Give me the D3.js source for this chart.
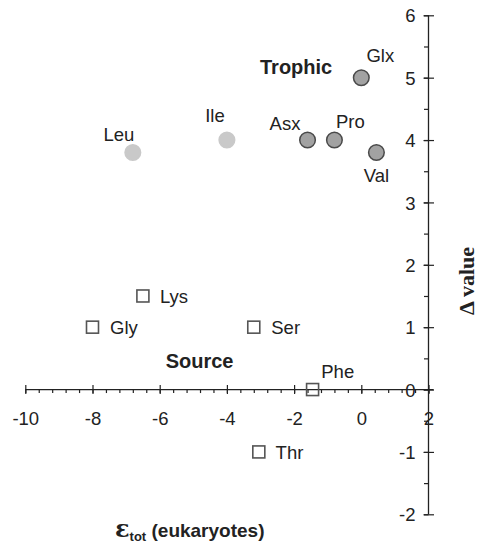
<!DOCTYPE html>
<html>
<head>
<meta charset="utf-8">
<script src="https://cdn.jsdelivr.net/npm/d3@7"></script>
<style>
  html, body { margin: 0; padding: 0; background: #fff; }
  svg { display: block; }
</style>
</head>
<body>
<script>
// ---- data ----
const trophicNames = ["Leu", "Ile", "Asx", "Pro", "Glx", "Val"];
const trophicX     = [-6.8, -4.0, -1.6, -0.8, 0.0, 0.45];
const trophicY     = [3.8, 4.0, 4.0, 4.0, 5.0, 3.8];
const trophicGroup = ["other", "other", "trophic", "trophic", "trophic", "trophic"];

const sourceNames = ["Lys", "Gly", "Ser", "Phe", "Thr"];
const sourceX     = [-6.5, -8.0, -3.2, -1.45, -3.05];
const sourceY     = [1.5, 1.0, 1.0, 0.0, -1.0];

const xTickValues = [-10, -8, -6, -4, -2, 0, 2];
const yTickValues = [-2, -1, 0, 1, 2, 3, 4, 5, 6];
const xMinorValues = d3.range(-10, 2.001, 0.4).map(v => +v.toFixed(2));
const yMinorValues = d3.range(-2, 6.001, 0.5);

// ---- layout ----
const W = 478, H = 544;
const svg = d3.select("body").append("svg").attr("width", W).attr("height", H);
const x = d3.scaleLinear().domain([-10, 2]).range([25.3, 428.5]);
const y = d3.scaleLinear().domain([-2, 6]).range([514.3, 15.3]);
const ink = "#222";
const font = "'Liberation Sans', Arial, sans-serif";

// x axis (at y = 0)
const xAxisG = svg.append("g").attr("transform", `translate(0,${y(0)})`);
xAxisG.append("line").attr("x1", x(-10)).attr("x2", x(2) + 5)
  .attr("stroke", ink).attr("stroke-width", 1.3);
xAxisG.call(g => {
  const minor = g.append("g").call(d3.axisBottom(x).tickValues(xMinorValues).tickSize(3.5).tickFormat(""));
  minor.select(".domain").remove();
  minor.selectAll("line").attr("stroke", ink).attr("stroke-width", 1.2);
  const major = g.append("g").call(d3.axisBottom(x).tickValues(xTickValues).tickFormat(d3.format("d")));
  major.select(".domain").remove();
  major.selectAll(".tick line").attr("y1", -4.5).attr("y2", 4.5).attr("stroke", ink).attr("stroke-width", 1.2);
  major.selectAll(".tick text").attr("y", 35).attr("dy", 0).attr("fill", ink)
    .style("font-family", font).style("font-size", "18.5px").text(d => d < 0 ? "-" + Math.abs(d) : d);
});

// y axis (at x = 2)
const yAxisG = svg.append("g").attr("transform", `translate(${x(2)},0)`);
yAxisG.append("line").attr("y1", y(6)).attr("y2", y(-2)).attr("stroke", ink).attr("stroke-width", 1.3);
yAxisG.call(g => {
  const minor = g.append("g").call(d3.axisLeft(y).tickValues(yMinorValues).tickSize(4.5).tickFormat(""));
  minor.select(".domain").remove();
  minor.selectAll("line").attr("stroke", ink).attr("stroke-width", 1.2);
  const major = g.append("g").call(d3.axisLeft(y).tickValues(yTickValues).tickFormat(d3.format("d")));
  major.select(".domain").remove();
  major.selectAll(".tick line").attr("x1", -5).attr("x2", 5.5).attr("stroke", ink).attr("stroke-width", 1.2);
  major.selectAll(".tick text").attr("x", -13).attr("dy", "0.36em").attr("fill", ink)
    .style("font-family", font).style("font-size", "18.5px").text(d => d < 0 ? "-" + Math.abs(d) : d);
});

// ---- points ----
const trophic = trophicNames.map((n, i) => ({ name: n, x: trophicX[i], y: trophicY[i], group: trophicGroup[i] }));
const source = sourceNames.map((n, i) => ({ name: n, x: sourceX[i], y: sourceY[i] }));

svg.append("g").selectAll("circle").data(trophic).join("circle")
  .attr("cx", d => x(d.x)).attr("cy", d => y(d.y)).attr("r", 7.8)
  .attr("fill", d => d.group === "trophic" ? "#a2a2a2" : "#c9c9c9")
  .attr("stroke", d => d.group === "trophic" ? "#4a4a4a" : "#c9c9c9")
  .attr("stroke-width", 1.5);

const sq = 12;
svg.append("g").selectAll("rect").data(source).join("rect")
  .attr("x", d => x(d.x) - sq / 2).attr("y", d => y(d.y) - sq / 2)
  .attr("width", sq).attr("height", sq)
  .attr("fill", d => d.name === "Phe" ? "none" : "#fff")
  .attr("stroke", "#555").attr("stroke-width", 1.6);

// point labels (offsets in px from the point)
const labelPos = {
  Leu: { dx: -14, dy: -12, a: "middle" },
  Ile: { dx: -12, dy: -18, a: "middle" },
  Asx: { dx: -22.5, dy: -10.5, a: "middle" },
  Pro: { dx: 16, dy: -12, a: "middle" },
  Glx: { dx: 19, dy: -15.5, a: "middle" },
  Val: { dx: 0, dy: 29, a: "middle" },
  Lys: { dx: 17, dy: 6.7, a: "start" },
  Gly: { dx: 17.5, dy: 6.7, a: "start" },
  Ser: { dx: 17.5, dy: 6.7, a: "start" },
  Thr: { dx: 16.8, dy: 6.7, a: "start" },
  Phe: { dx: 8.7, dy: -11.7, a: "start" }
};
svg.append("g").selectAll("text").data(trophic.concat(source)).join("text")
  .attr("x", d => x(d.x) + labelPos[d.name].dx)
  .attr("y", d => y(d.y) + labelPos[d.name].dy)
  .attr("text-anchor", d => labelPos[d.name].a)
  .attr("fill", ink).style("font-family", font).style("font-size", "18.5px")
  .text(d => d.name);

// group labels
svg.append("text").attr("x", 260).attr("y", 74).attr("fill", ink)
  .style("font-family", font).style("font-size", "20px").style("font-weight", "bold").text("Trophic");
svg.append("text").attr("x", 165.7).attr("y", 368).attr("fill", ink)
  .style("font-family", font).style("font-size", "20px").style("font-weight", "bold").text("Source");

// axis titles
const xt = svg.append("text").attr("x", 115).attr("y", 537).attr("fill", ink)
  .style("font-family", font).style("font-weight", "bold").style("font-size", "19px");
xt.append("tspan").style("font-family", "'DejaVu Serif', 'Liberation Serif', serif").style("font-size", "24px").text("ε");
xt.append("tspan").attr("dy", 4).style("font-size", "13px").text("tot");
xt.append("tspan").attr("dy", -4).text(" (eukaryotes)");

svg.append("text").attr("transform", `translate(474,281) rotate(-90)`)
  .attr("text-anchor", "middle").attr("fill", ink)
  .style("font-family", "'Liberation Serif', 'Times New Roman', serif")
  .style("font-weight", "bold").style("font-size", "22px").text("Δ value");
</script>
</body>
</html>
